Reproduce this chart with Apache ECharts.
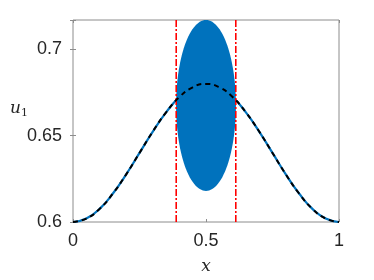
<!DOCTYPE html>
<html>
<head>
<meta charset="utf-8">
<script src="https://cdn.jsdelivr.net/npm/echarts@6/dist/echarts.min.js"></script>
<style>html,body{margin:0;padding:0;background:#fff}#c{width:374px;height:280px}</style>
</head>
<body>
<div id="c"></div>
<script>
var xVals = [0,0.05,0.1,0.15,0.2,0.25,0.3,0.35,0.4,0.45,0.5,0.55,0.6,0.65,0.7,0.75,0.8,0.85,0.9,0.95,1];
var uVals = [0.6,0.602,0.6076,0.6165,0.6276,0.64,0.6524,0.6635,0.6724,0.678,0.68,0.678,0.6724,0.6635,0.6524,0.64,0.6276,0.6165,0.6076,0.602,0.6];
var boundaries = [0.388, 0.612];
var ellipseCenter = [0.5, 0.6675];
var ellipseRadii = [0.1125, 0.0495];
var yMin = 0.6, yMax = 0.717;
var xTicks = ['0','0.5','1'];
var yTicks = ['0.6','0.65','0.7'];

var curve = xVals.map(function(x,i){return [x,uVals[i]];});
var chart = echarts.init(document.getElementById('c'), null, {renderer:'canvas'});
var axisCol = '#8c8c8c';
var labelFont = {color:'#262626', fontSize:18, fontFamily:'Liberation Sans, Arial, sans-serif'};
function fmt(list){return function(v){var s=String(Math.round(v*1000)/1000);return list.indexOf(s)>=0?s:'';};}
var series = [
  {type:'line', data:curve, smooth:true, showSymbol:false, lineStyle:{color:'#0072BD', width:2.2}, z:2, animation:false},
  {type:'custom', z:3, animation:false, clip:true, data:[[ellipseCenter[0], ellipseCenter[1]]],
   renderItem:function(params, api){
     var pts=[];
     for(var k=0;k<=120;k++){
       var t=k/120*Math.PI*2;
       pts.push(api.coord([ellipseCenter[0]+ellipseRadii[0]*Math.cos(t), ellipseCenter[1]+ellipseRadii[1]*Math.sin(t)]));
     }
     return {type:'polygon', shape:{points:pts}, style:{fill:'#0072BD', stroke:null}};
   }}
];
boundaries.forEach(function(b){
  series.push({type:'line', data:[[b,yMin],[b,yMax]], showSymbol:false, z:4, animation:false,
    lineStyle:{color:'#ff0000', width:1.6, type:[7,2,2,2]}});
});
series.push({type:'line', data:curve, smooth:true, showSymbol:false, z:5, animation:false,
  lineStyle:{color:'#000000', width:2, type:[5,4]}});

chart.setOption({
  animation:false,
  grid:{left:73, right:35, top:20, bottom:56, show:true, borderColor:axisCol, borderWidth:1},
  xAxis:[
    {type:'value', min:0, max:1, interval:0.5, position:'bottom',
     axisLine:{show:false}, splitLine:{show:false},
     axisTick:{inside:true, length:3, lineStyle:{color:axisCol}},
     axisLabel:Object.assign({margin:10, formatter:fmt(xTicks)}, labelFont),
     name:'x', nameLocation:'middle', nameGap:36,
     nameTextStyle:{fontFamily:'DejaVu Serif, serif', fontStyle:'italic', fontSize:17, color:'#262626'}},
    {type:'value', min:0, max:1, interval:0.5, position:'top',
     axisLine:{show:false}, splitLine:{show:false}, axisLabel:{show:false},
     axisTick:{inside:true, length:3, lineStyle:{color:axisCol}}}
  ],
  yAxis:[
    {type:'value', min:yMin, max:yMax, interval:0.05, position:'left',
     axisLine:{show:false}, splitLine:{show:false},
     axisTick:{inside:true, length:3, lineStyle:{color:axisCol}},
     axisLabel:Object.assign({margin:11, formatter:fmt(yTicks)}, labelFont)},
    {type:'value', min:yMin, max:yMax, interval:0.05, position:'right',
     axisLine:{show:false}, splitLine:{show:false}, axisLabel:{show:false},
     axisTick:{inside:true, length:3, lineStyle:{color:axisCol}}}
  ],
  graphic:[{type:'text', left:10, top:100, style:{
    text:'{i|u}{s|1}',
    rich:{i:{fontFamily:'DejaVu Serif, serif', fontStyle:'italic', fontSize:17, fill:'#262626'},
          s:{fontFamily:'DejaVu Serif, serif', fontSize:11, fill:'#262626', padding:[10,0,0,0]}}}}],
  series:series
});
</script>
</body>
</html>
